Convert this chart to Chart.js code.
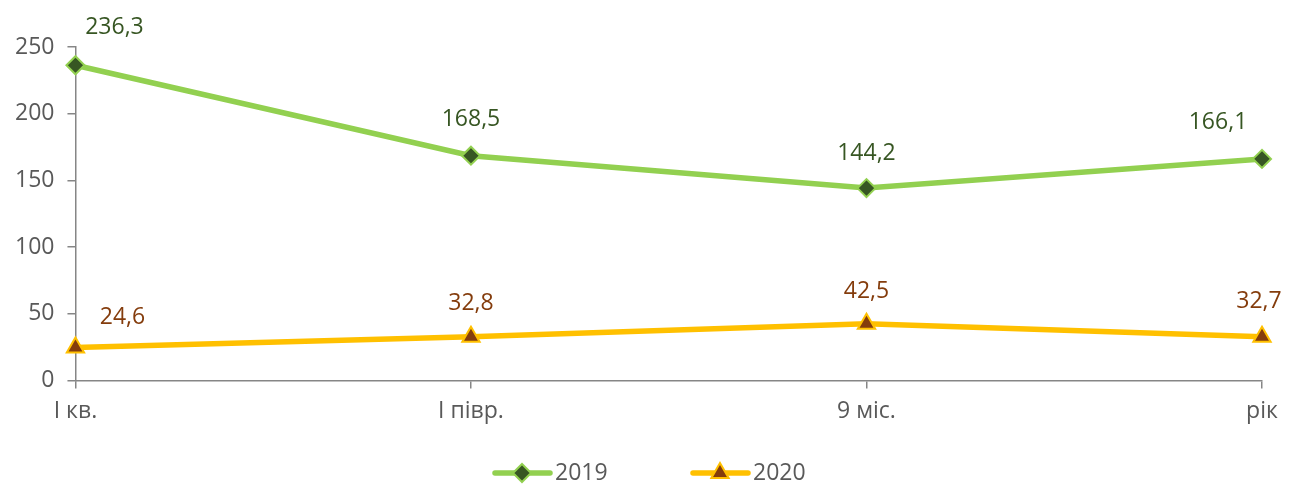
<!DOCTYPE html>
<html>
<head>
<meta charset="utf-8">
<script src="https://cdn.jsdelivr.net/npm/chart.js@4"></script>
<style>
  html, body { margin: 0; padding: 0; background: #fff; }
  #wrap { width: 1289px; height: 486px; }
</style>
</head>
<body>
<div id="wrap"><canvas id="myChart" width="1289" height="486"></canvas></div>
<script>
const labels = ['I кв.', 'I півр.', '9 міс.', 'рік'];
const values2019 = [236.3, 168.5, 144.2, 166.1];
const values2020 = [24.6, 32.8, 42.5, 32.7];
const yTicks = [0, 50, 100, 150, 200, 250];

const FONT = '"Open Sans", "Noto Sans", sans-serif';

// value labels next to points
const valueLabels = {
  id: 'valueLabels',
  afterDatasetsDraw(chart) {
    const ctx = chart.ctx;
    const offs = [
      [[39, -38], [0, -36], [0, -35], [-44, -36]],
      [[47, -30], [0, -33], [0, -32], [-3, -35]]
    ];
    const colors = ['#375623', '#843C0C'];
    ctx.save();
    ctx.font = '23px ' + FONT;
    ctx.textAlign = 'center';
    ctx.textBaseline = 'middle';
    chart.data.datasets.forEach((ds, i) => {
      chart.getDatasetMeta(i).data.forEach((pt, j) => {
        ctx.fillStyle = colors[i];
        const txt = ds.data[j].toFixed(1).replace('.', ',');
        ctx.fillText(txt, pt.x + offs[i][j][0], pt.y + offs[i][j][1]);
      });
    });
    ctx.restore();
  }
};

// legend with line + marker
const lineLegend = {
  id: 'lineLegend',
  afterDraw(chart) {
    const ctx = chart.ctx;
    const items = [
      { x: 495, ds: chart.data.datasets[0] },
      { x: 693, ds: chart.data.datasets[1] }
    ];
    const y = 473;
    ctx.save();
    items.forEach(it => {
      ctx.strokeStyle = it.ds.borderColor;
      ctx.lineWidth = 5.5;
      ctx.lineCap = 'round';
      ctx.beginPath();
      ctx.moveTo(it.x, y);
      ctx.lineTo(it.x + 55, y);
      ctx.stroke();
      ctx.fillStyle = it.ds.pointBackgroundColor;
      ctx.strokeStyle = it.ds.pointBorderColor;
      ctx.lineWidth = 2;
      Chart.helpers.drawPoint(ctx, {
        pointStyle: it.ds.pointStyle,
        radius: it.ds.pointRadius,
        borderWidth: 2
      }, it.x + 27, y);
      ctx.fillStyle = '#595959';
      ctx.font = '23px ' + FONT;
      ctx.textAlign = 'left';
      ctx.textBaseline = 'middle';
      ctx.fillText(it.ds.label, it.x + 60, y);
    });
    ctx.restore();
  }
};

const ctx = document.getElementById('myChart').getContext('2d');
const myChart = new Chart(ctx, {
  type: 'line',
  data: {
    labels: labels,
    datasets: [{
      label: '2019',
      data: values2019,
      borderColor: '#92D050',
      borderWidth: 5.5,
      pointStyle: 'rectRot',
      pointRadius: 9,
      pointHoverRadius: 9,
      pointBackgroundColor: '#375623',
      pointBorderColor: '#92D050',
      pointBorderWidth: 2,
      tension: 0
    }, {
      label: '2020',
      data: values2020,
      borderColor: '#FFC000',
      borderWidth: 5.5,
      pointStyle: 'triangle',
      pointRadius: 10,
      pointHoverRadius: 10,
      pointBackgroundColor: '#843C0C',
      pointBorderColor: '#FFC000',
      pointBorderWidth: 2,
      tension: 0
    }]
  },
  options: {
    responsive: false,
    maintainAspectRatio: false,
    animation: false,
    events: [],
    layout: { padding: { left: 2, right: 27, top: 47, bottom: 52 } },
    plugins: {
      legend: { display: false },
      tooltip: { enabled: false }
    },
    scales: {
      x: {
        offset: false,
        grid: { drawOnChartArea: false, color: '#868686', tickLength: 8, lineWidth: 1.5 },
        border: { color: '#868686', width: 1.5 },
        ticks: { color: '#595959', font: { size: 23, family: FONT }, padding: 9, maxRotation: 0 }
      },
      y: {
        min: 0,
        max: 250,
        afterBuildTicks: (axis) => { axis.ticks = yTicks.map(v => ({ value: v })); },
        grid: { drawOnChartArea: false, color: '#868686', tickLength: 8, lineWidth: 1.5 },
        border: { color: '#868686', width: 1.5 },
        ticks: { color: '#595959', font: { size: 23, family: FONT }, padding: 13 }
      }
    }
  },
  plugins: [valueLabels, lineLegend]
});
</script>
</body>
</html>
